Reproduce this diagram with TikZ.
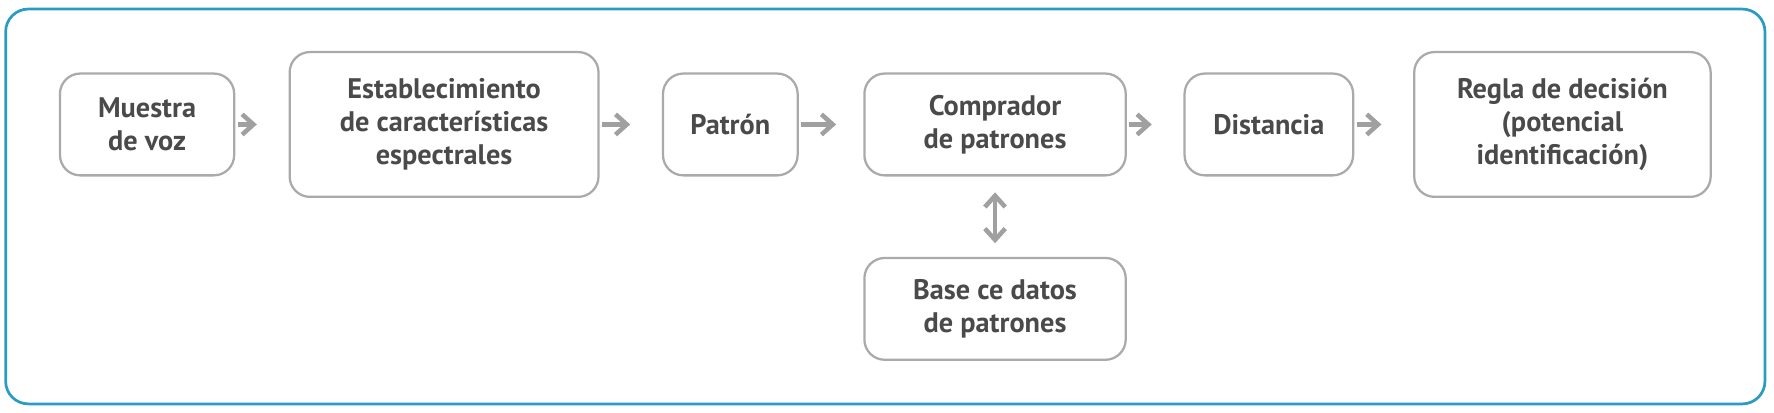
\documentclass[tikz,border=0pt]{standalone}
\usepackage{fontspec}
\setmainfont{PT Sans}
\usetikzlibrary{arrows.meta}
\definecolor{frame}{HTML}{2A9BC4}
\definecolor{boxl}{HTML}{AAAAAA}
\definecolor{txt}{HTML}{4A4A4A}
\definecolor{arr}{HTML}{A0A0A0}
\tikzset{
 box/.style={draw=boxl,line width=1pt,rounded corners=9pt,align=center,font=\bfseries\fontsize{12.5}{14.5}\selectfont,text=txt,inner sep=0pt},
 conn/.style={draw=arr,line width=2pt,-{Straight Barb[length=5pt,width=9pt,line width=2pt]}},
}
\begin{document}
\begin{tikzpicture}[x=0.5pt,y=-0.5pt]
\useasboundingbox (0,0) rectangle (1568,365);
\draw[frame,line width=1.2pt,rounded corners=10pt] (5,8) rectangle (1560,357);
\node[box,minimum width=77pt,minimum height=45pt] (m) at (130,110) {Muestra\\de voz};
\node[box,minimum width=136.5pt,minimum height=64pt] (e) at (392.5,110) {Establecimiento\\de características\\espectrales};
\node[box,minimum width=59.5pt,minimum height=45pt] (p) at (645.5,110) {Patrón};
\node[box,minimum width=115.5pt,minimum height=45pt] (c) at (879.5,110) {Comprador\\de patrones};
\node[box,minimum width=74.5pt,minimum height=45pt] (d) at (1121.5,110) {Distancia};
\node[box,minimum width=131pt,minimum height=64pt] (r) at (1381,110) {Regla de decisión\\(potencial\\identificación)};
\node[box,minimum width=115.5pt,minimum height=45pt] (b) at (879.5,273) {Base ce datos\\de patrones};
\draw[conn] ([xshift=1pt]m.east) -- ([xshift=-14pt]e.west);
\draw[conn] ([xshift=1pt]e.east) -- ([xshift=-14pt]p.west);
\draw[conn] ([xshift=1pt]p.east) -- ([xshift=-12pt]c.west);
\draw[conn] ([xshift=1pt]c.east) -- ([xshift=-14pt]d.west);
\draw[conn] ([xshift=1pt]d.east) -- ([xshift=-14pt]r.west);
\draw[conn,{Straight Barb[length=5pt,width=9pt,line width=2pt]}-{Straight Barb[length=5pt,width=9pt,line width=2pt]}] ([yshift=-7pt]c.south) -- ([yshift=6pt]b.north);
\end{tikzpicture}
\end{document}
